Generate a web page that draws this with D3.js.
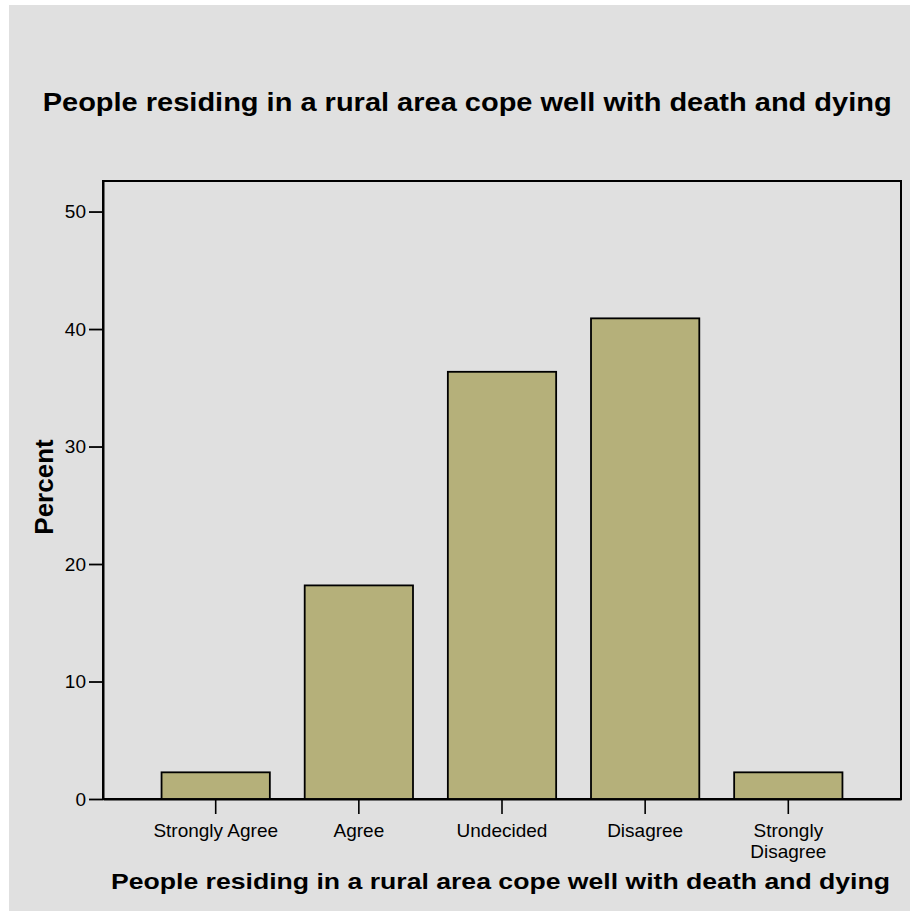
<!DOCTYPE html>
<html>
<head>
<meta charset="utf-8">
<script src="https://cdn.jsdelivr.net/npm/d3@7"></script>
<style>
  html, body { margin: 0; padding: 0; background: #ffffff; }
  svg { display: block; }
  text { font-family: "Liberation Sans", Arial, Helvetica, sans-serif; fill: #000; }
</style>
</head>
<body>
<svg id="chart" width="910" height="911"></svg>
<script>
// ---- data ----
const categories = ["Strongly Agree", "Agree", "Undecided", "Disagree", "Strongly Disagree"];
const tickLabelLines = [["Strongly Agree"], ["Agree"], ["Undecided"], ["Disagree"], ["Strongly", "Disagree"]];
const percents = [2.27, 18.18, 36.36, 40.91, 2.27];
const yTicks = [0, 10, 20, 30, 40, 50];
const chartTitle = "People residing in a rural area cope well with death and dying";
const xAxisTitle = "People residing in a rural area cope well with death and dying";
const yAxisTitle = "Percent";

// ---- layout ----
const W = 910, H = 911;
const frame = { left: 103, top: 181, right: 901, bottom: 799 };
const barColor = "#b5b07a";
const bgColor = "#e0e0e0";

const svg = d3.select("#chart");

svg.append("rect")
  .attr("x", 9).attr("y", 5)
  .attr("width", W - 9).attr("height", H - 5)
  .attr("fill", bgColor);

const x = d3.scaleBand()
  .domain(categories)
  .range([frame.left, frame.right])
  .paddingInner(0.2435)
  .paddingOuter(0.409)
  .align(0.5);

const y = d3.scaleLinear()
  .domain([0, 52.6])
  .range([frame.bottom, frame.top]);

// plot frame
svg.append("rect")
  .attr("x", frame.left).attr("y", frame.top)
  .attr("width", frame.right - frame.left)
  .attr("height", frame.bottom - frame.top)
  .attr("fill", "none")
  .attr("stroke", "#000")
  .attr("stroke-width", 2);

// bars
svg.append("g").selectAll("rect")
  .data(categories)
  .join("rect")
  .attr("x", d => x(d))
  .attr("y", (d, i) => y(percents[i]))
  .attr("width", x.bandwidth())
  .attr("height", (d, i) => y(0) - y(percents[i]))
  .attr("fill", barColor)
  .attr("stroke", "#000")
  .attr("stroke-width", 1.8);

// y axis
const yAxis = svg.append("g")
  .attr("transform", `translate(${frame.left},0)`)
  .call(d3.axisLeft(y).tickValues(yTicks).tickFormat(d3.format("d")).tickSize(14).tickSizeOuter(0).tickPadding(3));
yAxis.select(".domain").attr("stroke", "#000").attr("stroke-width", 2);
yAxis.selectAll(".tick line").attr("stroke", "#000").attr("stroke-width", 1.8);
yAxis.selectAll(".tick text")
  .style("font-family", "'Liberation Sans', Arial, sans-serif")
  .style("font-size", "19px")
  .attr("fill", "#000");

// x axis
const xAxis = svg.append("g")
  .attr("transform", `translate(0,${frame.bottom})`)
  .call(d3.axisBottom(x).tickSize(15).tickSizeOuter(0).tickFormat(""));
xAxis.select(".domain").attr("stroke", "#000").attr("stroke-width", 2);
xAxis.selectAll(".tick line").attr("stroke", "#000").attr("stroke-width", 1.6);
xAxis.selectAll(".tick").each(function(d, i) {
  const t = d3.select(this).append("text")
    .attr("text-anchor", "middle")
    .attr("fill", "#000")
    .style("font-family", "'Liberation Sans', Arial, sans-serif")
    .style("font-size", "19px");
  tickLabelLines[i].forEach((line, k) => {
    t.append("tspan").attr("x", 0).attr("y", 37.7 + k * 21.7).text(line);
  });
});

// chart title
svg.append("text")
  .attr("x", 42.7).attr("y", 110.7)
  .attr("textLength", 849).attr("lengthAdjust", "spacingAndGlyphs")
  .style("font-size", "25.5px").style("font-weight", "bold")
  .text(chartTitle);

// x axis title
svg.append("text")
  .attr("x", 111).attr("y", 889)
  .attr("textLength", 779).attr("lengthAdjust", "spacingAndGlyphs")
  .style("font-size", "22.5px").style("font-weight", "bold")
  .text(xAxisTitle);

// y axis title
svg.append("text")
  .attr("transform", "translate(53,487) rotate(-90)")
  .attr("text-anchor", "middle")
  .style("font-size", "26px").style("font-weight", "bold")
  .text(yAxisTitle);
</script>
</body>
</html>
